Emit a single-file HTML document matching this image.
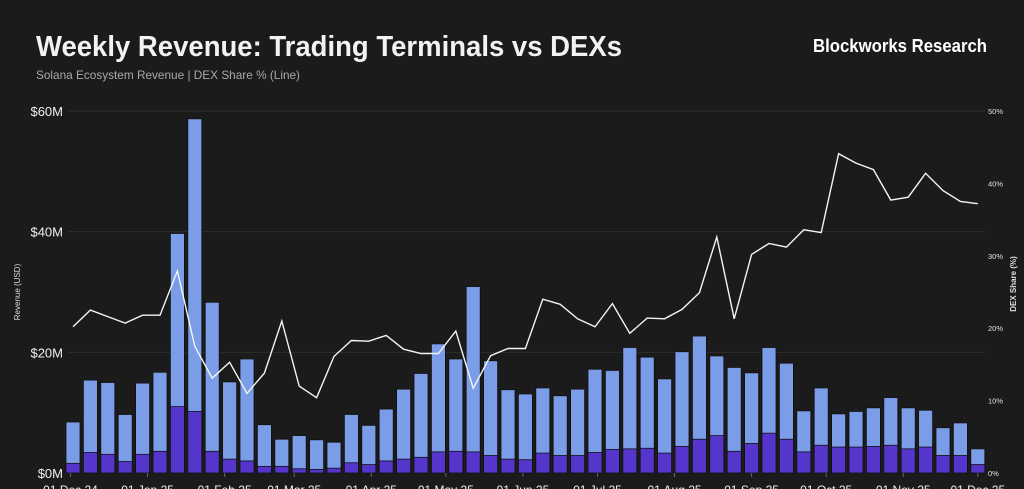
<!DOCTYPE html>
<html><head><meta charset="utf-8"><style>
html,body{margin:0;padding:0;background:#1b1b1b;}
svg{display:block;font-family:"Liberation Sans",sans-serif;}
</style></head><body>
<svg id="chart" width="1024" height="489" viewBox="0 0 1024 489">
<rect width="1024" height="489" fill="#1b1b1b"/>
<text x="36" y="56" fill="#f2f2f2" font-size="29" font-weight="bold" textLength="586" lengthAdjust="spacingAndGlyphs">Weekly Revenue: Trading Terminals vs DEXs</text>
<text x="36" y="79" fill="#a8a8a8" font-size="12" textLength="264" lengthAdjust="spacingAndGlyphs">Solana Ecosystem Revenue | DEX Share % (Line)</text>
<text x="813" y="52" fill="#ffffff" font-size="18" font-weight="bold" textLength="174" lengthAdjust="spacingAndGlyphs">Blockworks Research</text>
<text transform="translate(20,292) rotate(-90)" text-anchor="middle" fill="#dddddd" font-size="8">Revenue (USD)</text>
<text transform="translate(1016,284) rotate(-90)" text-anchor="middle" fill="#dddddd" font-size="8" font-weight="bold">DEX Share (%)</text>
<g id="grid"></g><g id="bars"></g><g id="line"></g><g id="axes"></g>
</svg>
<script>
const totals=[8.45,15.4,15.0,9.7,14.9,16.7,39.7,58.7,28.3,15.1,18.9,8.0,5.6,6.2,5.5,5.1,9.7,7.9,10.6,13.9,16.5,21.4,18.9,30.9,18.6,13.8,13.1,14.1,12.8,13.9,17.2,17.0,20.8,19.2,15.6,20.1,22.7,19.4,17.5,16.6,20.8,18.2,10.3,14.1,9.8,10.2,10.8,12.5,10.8,10.4,7.5,8.3,4.0];
const dexRevenue=[1.6,3.4,3.1,1.9,3.1,3.6,11.0,10.2,3.6,2.3,2.0,1.1,1.1,0.7,0.6,0.8,1.7,1.4,2.0,2.3,2.6,3.5,3.6,3.5,2.9,2.3,2.2,3.3,2.9,2.9,3.4,3.9,4.0,4.1,3.3,4.4,5.6,6.2,3.6,4.9,6.6,5.6,3.5,4.6,4.3,4.3,4.4,4.6,4.0,4.3,2.9,2.9,1.4];
const dexShare=[20.2,22.5,21.6,20.7,21.8,21.8,27.9,17.5,13.1,15.3,11.0,13.8,21.0,12.0,10.4,16.1,18.3,18.2,19.0,17.1,16.5,16.5,19.6,11.7,16.2,17.2,17.2,24.0,23.3,21.3,20.2,23.4,19.3,21.4,21.3,22.6,24.9,32.6,21.3,30.2,31.7,31.2,33.6,33.2,44.1,42.8,41.9,37.7,38.1,41.4,39.0,37.5,37.2];
const yTicks=[0,20,40,60];
const yTickLabels=["$0M","$20M","$40M","$60M"];
const y2Ticks=[0,10,20,30,40,50];
const xTickLabels=["01 Dec 24","01 Jan 25","01 Feb 25","01 Mar 25","01 Apr 25","01 May 25","01 Jun 25","01 Jul 25","01 Aug 25","01 Sep 25","01 Oct 25","01 Nov 25","01 Dec 25"];
const xTickDates=["2024-12-01","2025-01-01","2025-02-01","2025-03-01","2025-04-01","2025-05-01","2025-06-01","2025-07-01","2025-08-01","2025-09-01","2025-10-01","2025-11-01","2025-12-01"];
const startDate=Date.UTC(2024,11,2);
const NS="http://www.w3.org/2000/svg";
const y0=473,yTop=111,x0=73,step=17.4,bw=14;
const yScale=v=>y0-v/60*(y0-yTop);
const y2Scale=v=>y0-v/50*(y0-yTop);
const xIdx=i=>x0+i*step;
const xDate=s=>{const p=s.split('-');return x0+(Date.UTC(+p[0],+p[1]-1,+p[2])-startDate)/864e5/7*step;};
function mk(tag,attrs,parent){const e=document.createElementNS(NS,tag);for(const k in attrs)e.setAttribute(k,attrs[k]);parent.appendChild(e);return e;}
const grid=document.getElementById('grid'),bars=document.getElementById('bars'),line=document.getElementById('line'),axes=document.getElementById('axes');
yTicks.forEach((v,i)=>{
  if(v>0){const g=mk('line',{x1:68,x2:985,y1:yScale(v),y2:yScale(v),stroke:'#2e2e2e','stroke-width':1},grid);
  
  }
  const t=mk('text',{x:63,y:yScale(v)+5,'text-anchor':'end',fill:'#f0f0f0','font-size':13},axes);t.textContent=yTickLabels[i];
  
  
});
y2Ticks.forEach(v=>{
  const t=mk('text',{x:988,y:y2Scale(v)+3,fill:'#e0e0e0','font-size':7.5},axes);t.textContent=v+'%';
  
  
});
xTickLabels.forEach((l,i)=>{
  const x=xDate(xTickDates[i]);
  const tk=mk('line',{x1:x,x2:x,y1:473,y2:477,stroke:'#666'},axes);
  
  
  const t=mk('text',{x:x,y:494,'text-anchor':'middle',fill:'#f0f0f0','font-size':12},axes);t.textContent=l;
  
  
});
totals.forEach((v,i)=>{
  const x=xIdx(i)-bw/2;
  const r=mk('rect',{x:x,y:yScale(v),width:bw,height:y0-yScale(v),fill:'#7b9de8',stroke:'#111','stroke-width':0.8},bars);
  
  
  const d=dexRevenue[i];
  const r2=mk('rect',{x:x,y:yScale(d),width:bw,height:y0-yScale(d),fill:'#5535cc',stroke:'#111','stroke-width':0.8},bars);
  
  
});
const pts=dexShare.map((v,i)=>xIdx(i).toFixed(1)+','+y2Scale(v).toFixed(1)).join(' ');
const pl=mk('polyline',{points:pts,fill:'none',stroke:'#f4f4f4','stroke-width':1.4,'stroke-linejoin':'miter'},line);


</script>
</body></html>
